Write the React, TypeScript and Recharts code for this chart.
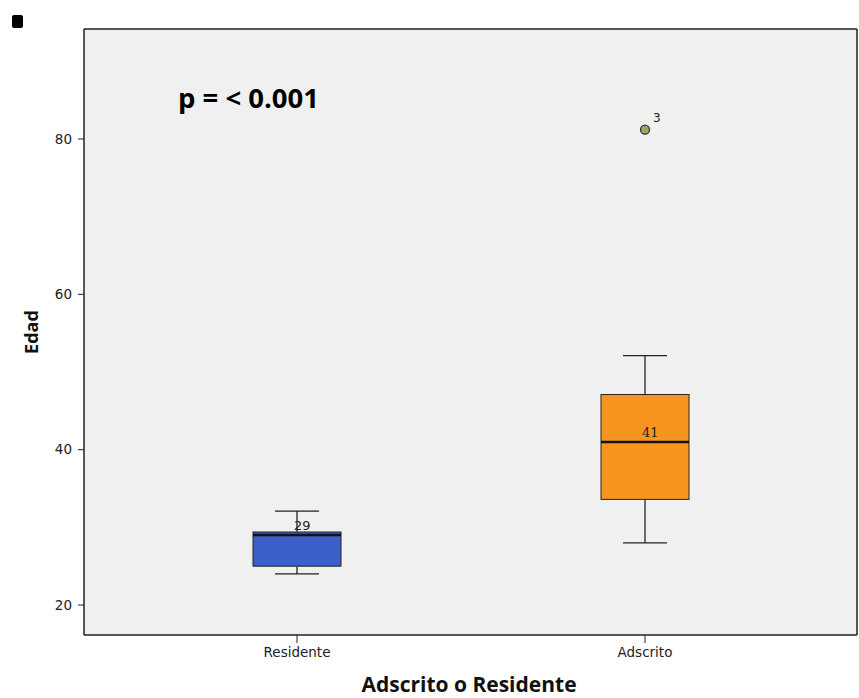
import { ComposedChart, Bar, Scatter, XAxis, YAxis, CartesianGrid } from 'recharts';

// Edad por grupo (resumen de caja y bigotes)
const GROUPS = ['Residente', 'Adscrito'];
const WHISKER_LOW = [24, 28];
const Q1 = [25, 33.6];
const MEDIAN = [29, 41];
const Q3 = [29.4, 47.1];
const WHISKER_HIGH = [32.1, 52.1];
const OUTLIER = [null, 81.2];
const OUTLIER_ID = ['', '3'];
const BOX_COLORS = ['#3d5fc9', '#f8951f'];
const MEDIAN_FONTS = ['DejaVu Sans', 'DejaVu Serif'];

const Y_TICKS = [20, 40, 60, 80];

const data = GROUPS.map((group, i) => ({
    group,
    range: [WHISKER_LOW[i], WHISKER_HIGH[i]],
    low: WHISKER_LOW[i],
    q1: Q1[i],
    median: MEDIAN[i],
    q3: Q3[i],
    high: WHISKER_HIGH[i],
    outlier: OUTLIER[i],
    outlierId: OUTLIER_ID[i],
    color: BOX_COLORS[i],
    medianFont: MEDIAN_FONTS[i],
}));

const LINE = '#222';
const TICK_FONT = { fontSize: 13.5, fontFamily: 'DejaVu Sans', fill: '#222' };

// The bar spans the whisker range; every other level is placed on the same pixel scale.
function BoxShape(props: any) {
    const { x, y, width, height, payload } = props;
    if (height == null || !payload) return null;
    const { low, q1, median, q3, high, color, medianFont } = payload;
    const perUnit = height / (high - low);
    const toY = (v: number) => y + (high - v) * perUnit;
    const cx = x + width / 2;
    const cap = width / 4;
    return (
        <g>
            <line x1={cx} x2={cx} y1={toY(high)} y2={toY(q3)} stroke={LINE} strokeWidth={1.3} />
            <line x1={cx} x2={cx} y1={toY(q1)} y2={toY(low)} stroke={LINE} strokeWidth={1.3} />
            <line x1={cx - cap} x2={cx + cap} y1={toY(high)} y2={toY(high)} stroke={LINE} strokeWidth={1.3} />
            <line x1={cx - cap} x2={cx + cap} y1={toY(low)} y2={toY(low)} stroke={LINE} strokeWidth={1.3} />
            <rect x={x} y={toY(q3)} width={width} height={toY(q1) - toY(q3)} fill={color} stroke={LINE} strokeWidth={1} />
            <line x1={x} x2={x + width} y1={toY(median)} y2={toY(median)} stroke="#111" strokeWidth={2.5} />
            <text x={cx - 3} y={toY(median) - 5} fontSize={13} fontFamily={medianFont} fill="#222">
                {median}
            </text>
        </g>
    );
}

function OutlierShape(props: any) {
    const { cx, cy, payload } = props;
    if (payload?.outlier == null || cx == null || cy == null) return null;
    return (
        <g>
            <circle cx={cx} cy={cy} r={4.5} fill="#a3a35e" stroke="#333" strokeWidth={1.3} />
            <text x={cx + 8} y={cy - 8} fontSize={12} fontFamily="DejaVu Sans" fill="#222">
                {payload.outlierId}
            </text>
        </g>
    );
}

export default function App() {
    return (
        <div style={{ position: 'absolute', left: 0, top: 0, width: 859, height: 698, background: '#fff' }}>
            <ComposedChart width={859} height={698} data={data} margin={{ top: 28, right: 1, bottom: 33, left: 44 }}>
                <CartesianGrid horizontal={false} vertical={false} fill="#f0f0f0" />
                <XAxis
                    dataKey="group"
                    padding={{ left: 39, right: 38 }}
                    height={30}
                    tickSize={8}
                    tickMargin={4}
                    axisLine={{ stroke: LINE, strokeWidth: 1.5 }}
                    tickLine={{ stroke: LINE }}
                    tick={TICK_FONT}
                />
                <XAxis
                    xAxisId="top"
                    dataKey="group"
                    orientation="top"
                    height={1}
                    tick={false}
                    tickLine={false}
                    axisLine={{ stroke: LINE, strokeWidth: 1.5 }}
                />
                <YAxis
                    type="number"
                    domain={[16.14, 94.16]}
                    ticks={Y_TICKS}
                    allowDataOverflow
                    width={40}
                    tickSize={6}
                    tickMargin={6}
                    axisLine={{ stroke: LINE, strokeWidth: 1.5 }}
                    tickLine={{ stroke: LINE }}
                    tick={TICK_FONT}
                />
                <YAxis
                    yAxisId="right"
                    orientation="right"
                    width={1}
                    tick={false}
                    tickLine={false}
                    axisLine={{ stroke: LINE, strokeWidth: 1.5 }}
                />
                <Bar dataKey="range" barSize={88} shape={BoxShape} isAnimationActive={false} />
                <Scatter dataKey="outlier" shape={OutlierShape} isAnimationActive={false} />
                <rect x={12} y={15} width={11} height={13} rx={2} fill="#000" />
                <text x={178} y={108} fontSize={27.5} fontWeight="bold" fontFamily="Open Sans" fill="#000">
                    p = &lt; 0.001
                </text>
                <text x={38} y={332} fontSize={18} fontWeight="bold" fontFamily="Open Sans" fill="#111" textAnchor="middle" transform="rotate(-90, 38, 332)">
                    Edad
                </text>
                <text x={469} y={692} fontSize={21} fontWeight="bold" fontFamily="Open Sans" fill="#111" textAnchor="middle">
                    Adscrito o Residente
                </text>
            </ComposedChart>
        </div>
    );
}
